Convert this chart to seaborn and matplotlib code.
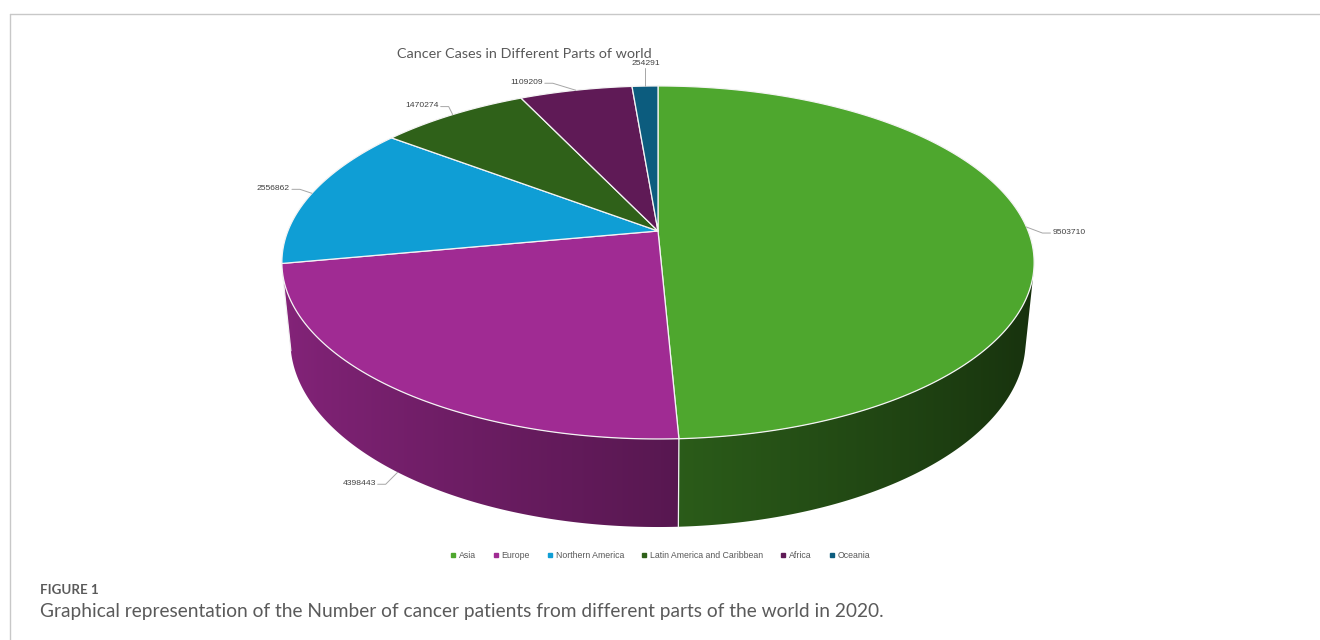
import numpy as np
import matplotlib
matplotlib.use("Agg")
import matplotlib.pyplot as plt
import seaborn as sns
from matplotlib.lines import Line2D
from matplotlib.patches import Polygon

# ---- data -------------------------------------------------------------
regions = ["Asia", "Europe", "Northern America",
           "Latin America and Caribbean", "Africa", "Oceania"]
cases = [9503710, 4398443, 2556862, 1470274, 1109209, 254291]
slice_hex = ["#4EA72E", "#A02B93", "#0F9ED5", "#2F6119", "#5F1A56", "#0C5C7E"]

title = "Cancer Cases in Different Parts of world"
fig_label = "FIGURE 1"
caption = ("Graphical representation of the Number of cancer patients "
           "from different parts of the world in 2020.")

# ---- style ------------------------------------------------------------
sns.set_theme(style="white")
plt.rcParams["font.family"] = ["Liberation Sans", "DejaVu Sans"]
palette = sns.color_palette(slice_hex)

W, H = 1320, 640
fig = plt.figure(figsize=(W / 100, H / 100), dpi=100)
ax = fig.add_axes([0, 0, 1, 1])
ax.axis("off")

# ---- 3-D pie geometry (perspective view of a short cylinder) ----------
CX, CY = 658.0, 231.0          # screen position of the pie centre
ALPHA = np.radians(27.5)       # viewing elevation
C, S = np.cos(ALPHA), np.sin(ALPHA)
DIST = 5.608 * C               # camera distance (in pie radii)
F = 353.0 / (S / (DIST + C) + S / (DIST - C))   # focal scale
THICK = 0.2405                 # wall height (in pie radii)


def project(theta, y=0.0):
    """theta: clockwise angle from 12 o'clock, y: height (0 = top face)."""
    x = np.sin(theta)
    z = np.cos(theta)
    depth = DIST + z * C - y * S
    up = y * C + z * S
    return CX + F * x / depth, CY - F * up / depth


def wall_shade(theta):
    return np.clip(0.56 - 0.27 * np.sin(theta), 0.2, 1.0)


values = np.asarray(cases, dtype=float)
bounds = np.concatenate([[0.0], np.cumsum(values) / values.sum() * 2 * np.pi])

# visible part of the cylinder wall lies between the two silhouette lines
theta_r = np.arccos(-1.0 / (DIST * C))
theta_l = 2 * np.pi - theta_r

for i in range(len(values)):
    t0, t1 = max(bounds[i], theta_r), min(bounds[i + 1], theta_l)
    if t1 <= t0:
        continue
    th = np.linspace(t0, t1, 200)
    xt, yt = project(th, 0.0)
    xb, yb = project(th[::-1], -THICK)
    px, py = np.r_[xt, xb], np.r_[yt, yb]
    patch = Polygon(np.c_[px, py], closed=True, facecolor="none",
                    edgecolor="none")
    ax.add_patch(patch)
    # horizontal light gradient across the wall
    xm, _ = project(th, -THICK / 2)
    order = np.argsort(xm)
    x0, x1 = px.min() - 1, px.max() + 1
    cols = np.linspace(x0, x1, 400)
    th_at = np.interp(cols, xm[order], th[order])
    rgb = np.array(palette[i])[None, :] * wall_shade(th_at)[:, None]
    img = np.clip(rgb, 0, 1)[None, :, :]
    im = ax.imshow(img, extent=(x0, x1, py.max() + 1, py.min() - 1),
                   aspect="auto", interpolation="bilinear", zorder=1)
    im.set_clip_path(patch)

# vertical edges of slice boundaries on the visible wall, plus the left rim
for b in list(bounds[1:-1]) + [theta_l]:
    if theta_r <= b <= theta_l:
        xs, ys = project(np.array([b, b]), np.array([0.0, -THICK]))
        ax.plot(xs, ys, color="#f2f2f2", linewidth=0.9, zorder=2)

# top face
for i in range(len(values)):
    a0, a1 = bounds[i], bounds[i + 1]
    th = np.linspace(a0, a1, max(3, int(np.degrees(a1 - a0) * 3)))
    xs, ys = project(th, 0.0)
    ax.fill(np.r_[CX, xs], np.r_[CY, ys], facecolor=palette[i],
            edgecolor="#f4f4f4", linewidth=0.9, joinstyle="round", zorder=3)

# ---- data labels with elbow leader lines ------------------------------
# (anchor on pie, text offset from anchor in px, horizontal alignment)
label_layout = [
    ("top", (26, 5), "left"),
    ("bottom", (-22, 11), "right"),
    ("top", (-22, -5), "right"),
    ("top", (-14, -9), "right"),
    ("top", (-33, -8), "right"),
    ("top", (1, -23), "center"),
]
for i, (where, (dx, dy), ha) in enumerate(label_layout):
    mid = 0.5 * (bounds[i] + bounds[i + 1])
    px, py = project(mid, 0.0 if where == "top" else -THICK)
    tx, ty = px + dx, py + dy
    if ha == "center":
        path_x = [px, px]
        path_y = [py, ty + 5]
    else:
        sgn = 1 if ha == "left" else -1
        end_x = tx - sgn * 2
        elbow_x = end_x - sgn * 8
        path_x = [px, elbow_x, end_x]
        path_y = [py, ty + 1, ty + 1]
    ax.plot(path_x, path_y, color="#a6a6a6", linewidth=0.7, zorder=4)
    ax.text(tx, ty, f"{cases[i]}", ha=ha, va="center", fontsize=6.1,
            color="#404040", zorder=5)

# ---- title, legend ----------------------------------------------------
ax.text(524, 54, title, ha="center", va="center", fontsize=10.4,
        color="#595959", family=["Lato", "DejaVu Sans"])

handles = [Line2D([0], [0], marker="s", linestyle="none", markersize=2.3,
                  markerfacecolor=palette[i], markeredgecolor=palette[i])
           for i in range(len(regions))]
ax.legend(handles, regions, loc="center", ncol=len(regions),
          bbox_to_anchor=(660 / W, 1 - 556 / H), frameon=False,
          fontsize=6.3, labelcolor="#595959", handlelength=0.6,
          handletextpad=0.35, columnspacing=2.0, borderpad=0)

# ---- page frame and caption -------------------------------------------
ax.plot([10, W], [14, 14], color="#c8c8c8", linewidth=1.0, zorder=0)
ax.plot([10, 10], [14, H], color="#c8c8c8", linewidth=1.0, zorder=0)
ax.text(40, 590, fig_label, ha="left", va="center", fontsize=9.6,
        fontweight="bold", color="#5a5a5a", family=["Lato", "DejaVu Sans"])
ax.text(40, 612, caption, ha="left", va="center", fontsize=13.8,
        color="#5a5a5a", family=["Lato", "DejaVu Sans"])

ax.set_xlim(0, W)
ax.set_ylim(H, 0)
fig.savefig("out.png", dpi=100, facecolor="white")
